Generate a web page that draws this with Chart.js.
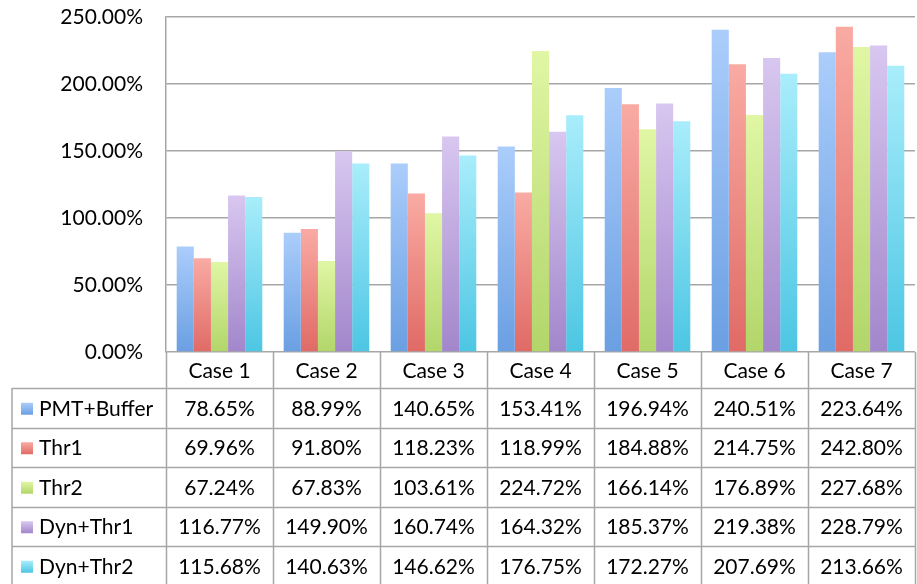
<!DOCTYPE html>
<html>
<head>
<meta charset="utf-8">
<script src="https://cdn.jsdelivr.net/npm/chart.js@4.4.1/dist/chart.umd.min.js"></script>
<style>
  html, body { margin: 0; padding: 0; background: #fff; }
  #wrap { width: 917px; height: 584px; }
</style>
</head>
<body>
<div id="wrap"><canvas id="c" width="917" height="584"></canvas></div>
<script>
// ── Datos ──────────────────────────
const CASES = ['Case 1', 'Case 2', 'Case 3', 'Case 4', 'Case 5', 'Case 6', 'Case 7'];
const SERIES_NAMES = ['PMT+Buffer', 'Thr1', 'Thr2', 'Dyn+Thr1', 'Dyn+Thr2'];
const PMT_BUFFER = [78.65, 88.99, 140.65, 153.41, 196.94, 240.51, 223.64];
const THR1       = [69.96, 91.80, 118.23, 118.99, 184.88, 214.75, 242.80];
const THR2       = [67.24, 67.83, 103.61, 224.72, 166.14, 176.89, 227.68];
const DYN_THR1   = [116.77, 149.90, 160.74, 164.32, 185.37, 219.38, 228.79];
const DYN_THR2   = [115.68, 140.63, 146.62, 176.75, 172.27, 207.69, 213.66];
const Y_TICKS    = [0, 50, 100, 150, 200, 250];

// colores: [arriba, abajo] del degradado
const COLORS = [
  ['#abcdfb', '#6a9fe2'],
  ['#f9aba3', '#e06a66'],
  ['#e0f6a4', '#b2d66a'],
  ['#d8c7f0', '#a286cb'],
  ['#a9edfb', '#4cc6e3']
];

const FONT = 'Lato, "Open Sans", sans-serif';
const SIZE = 21;

const values = [PMT_BUFFER, THR1, THR2, DYN_THR1, DYN_THR2];
const fmtPct = v => v.toFixed(2) + '%';

function barGradient(ctx, i) {
  const chart = ctx.chart;
  const area = chart.chartArea;
  if (!area) return COLORS[i][1];
  const v = ctx.raw ?? 0;
  const top = chart.scales.y.getPixelForValue(v);
  const g = chart.ctx.createLinearGradient(0, top, 0, area.bottom);
  g.addColorStop(0, COLORS[i][0]);
  g.addColorStop(1, COLORS[i][1]);
  return g;
}

// ── Tabla de datos bajo el gráfico ──────────────
const dataTable = {
  id: 'dataTable',
  afterDraw(chart) {
    const { ctx, chartArea } = chart;
    const xs = chart.scales.x;
    const colW = (chartArea.right - chartArea.left) / CASES.length;
    const left = 12;
    const top = chartArea.bottom;
    const headH = 36;
    const rowH = 39.5;
    const bottom = top + headH + rowH * SERIES_NAMES.length;

    ctx.save();
    ctx.strokeStyle = '#a6a6a6';
    ctx.lineWidth = 1.5;

    // líneas horizontales
    ctx.beginPath();
    for (let r = 0; r <= SERIES_NAMES.length; r++) {
      const y = Math.round(top + headH + r * rowH) + 0.5;
      ctx.moveTo(left, y);
      ctx.lineTo(chartArea.right, y);
    }
    // verticales
    ctx.moveTo(left, top + headH); ctx.lineTo(left, bottom);
    for (let c = 0; c <= CASES.length; c++) {
      const x = Math.round(chartArea.left + c * colW) + 0.5;
      ctx.moveTo(x, top);
      ctx.lineTo(x, bottom);
    }
    ctx.stroke();

    ctx.fillStyle = '#000';
    ctx.font = SIZE + 'px ' + FONT;
    ctx.textBaseline = 'middle';
    ctx.textAlign = 'center';
    CASES.forEach((c, i) => {
      ctx.fillText(c, xs.getPixelForValue(i), top + headH / 2 + 1);
    });

    SERIES_NAMES.forEach((name, r) => {
      const yc = top + headH + r * rowH + rowH / 2 + 1;
      // cuadrito de leyenda
      const g = ctx.createLinearGradient(0, yc - 6, 0, yc + 6);
      g.addColorStop(0, COLORS[r][0]);
      g.addColorStop(1, COLORS[r][1]);
      ctx.fillStyle = g;
      ctx.fillRect(21, yc - 6, 12, 12);
      ctx.fillStyle = '#000';
      ctx.textAlign = 'left';
      ctx.fillText(name, 39, yc);
      ctx.textAlign = 'center';
      values[r].forEach((v, i) => {
        ctx.fillText(fmtPct(v), xs.getPixelForValue(i), yc);
      });
    });
    ctx.restore();
  }
};

new Chart(document.getElementById('c'), {
  type: 'bar',
  data: {
    labels: CASES,
    datasets: SERIES_NAMES.map((name, i) => ({
      label: name,
      data: values[i],
      backgroundColor: ctx => barGradient(ctx, i),
      borderWidth: 0,
      categoryPercentage: 0.8,
      barPercentage: 1.0
    }))
  },
  options: {
    responsive: false,
    animation: false,
    layout: { padding: { top: 17, right: 2, bottom: 232, left: 0 } },
    plugins: { legend: { display: false }, tooltip: { enabled: false } },
    scales: {
      x: { display: false, offset: true },
      y: {
        min: 0, max: 250,
        afterBuildTicks: s => { s.ticks = Y_TICKS.map(v => ({ value: v })); },
        afterFit: s => { s.width = 166; },
        border: { color: '#a6a6a6', width: 1.5 },
        grid: { color: '#a6a6a6', lineWidth: 1.5, drawTicks: true, tickLength: 21, tickColor: 'transparent' },
        ticks: {
          color: '#000',
          padding: 2,
          font: { family: FONT, size: SIZE },
          callback: v => fmtPct(v)
        }
      }
    }
  },
  plugins: [dataTable]
});
</script>
</body>
</html>
